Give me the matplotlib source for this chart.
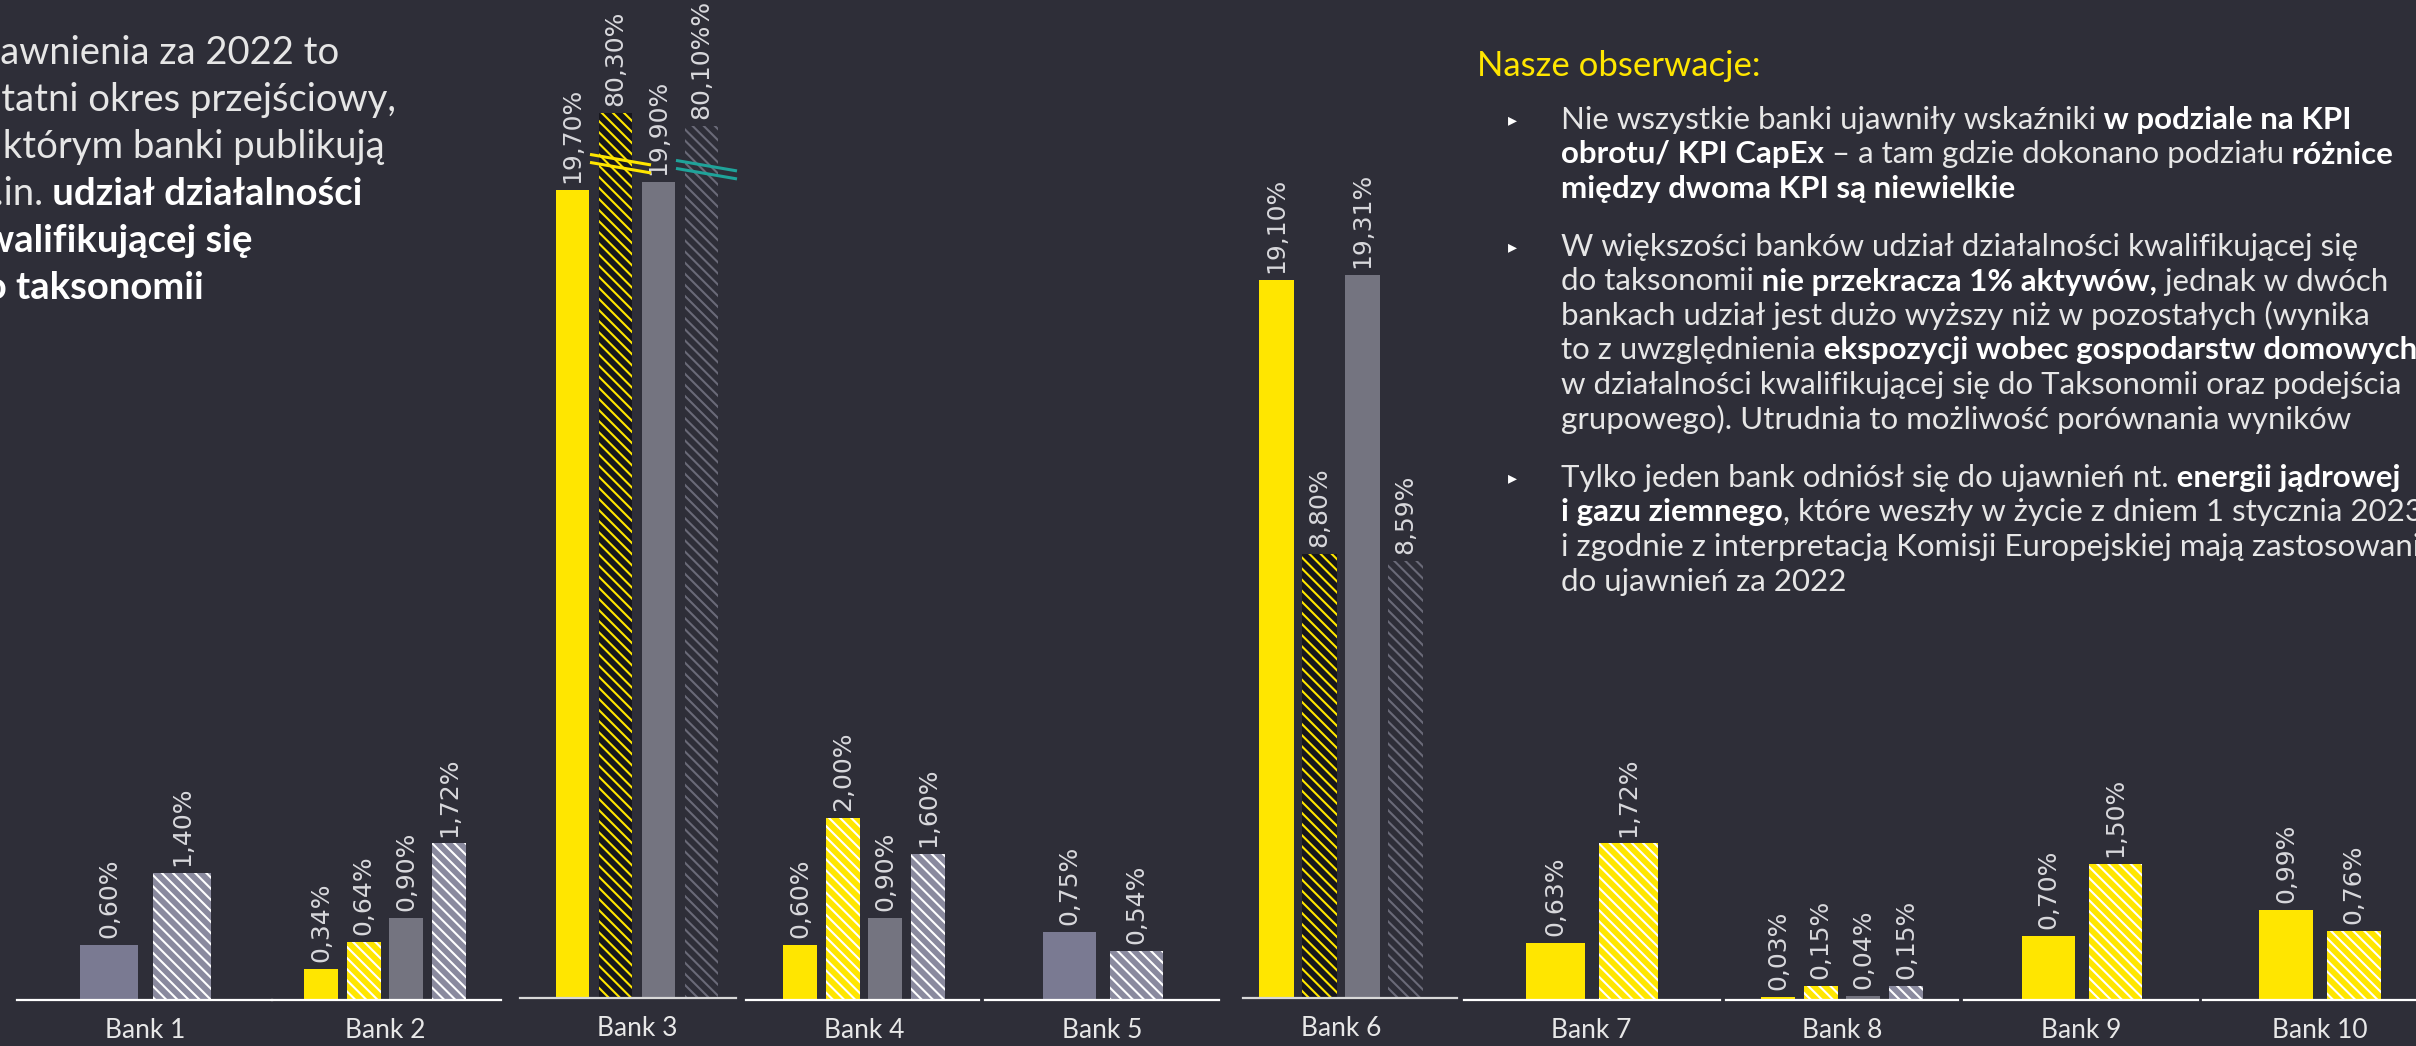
import numpy as np
import matplotlib
matplotlib.use('Agg')
import matplotlib.pyplot as plt
from matplotlib.transforms import blended_transform_factory

# Dane
banks = ['Bank 1', 'Bank 2', 'Bank 3', 'Bank 4', 'Bank 5',
         'Bank 6', 'Bank 7', 'Bank 8', 'Bank 9', 'Bank 10']
# cztery serie: żółta, żółta kreskowana, szara, szara kreskowana (None = brak)
yellow = [None, 0.34, 19.70, 0.60, None, 19.10, 0.63, 0.03, 0.70, 0.99]
yellow_capex = [None, 0.64, 80.30, 2.00, None, 8.80, 1.72, 0.15, 1.50, 0.76]
grey = [0.60, 0.90, 19.90, 0.90, 0.75, 19.31, None, 0.04, None, None]
grey_capex = [1.40, 1.72, 80.10, 1.60, 0.54, 8.59, None, 0.15, None, None]
series = [yellow, yellow_capex, grey, grey_capex]
label_fix = {(2, 3): '80,10%%'}  # tak jak w oryginale

W, H = 2416, 1046
BG = '#2e2e38'
YEL = '#ffe600'

plt.rcParams['hatch.linewidth'] = 1.5
fig = plt.figure(figsize=(W / 100, H / 100), dpi=100, facecolor=BG)

# warstwa na tekst w pikselach
tax = fig.add_axes([0, 0, 1, 1])
tax.set_xlim(0, W)
tax.set_ylim(H, 0)
tax.axis('off')

# układ paneli (piksele): lewa, prawa krawędź, środek grupy, szerokość i odstęp słupków
panel_l = [17, 272, 520, 746, 985, 1243, 1464, 1726, 1964, 2203]
panel_r = [272, 501, 736, 979, 1219, 1457, 1720, 1958, 2198, 2440]
centers = [145.5, 385, 637, 864, 1102.5, 1341, 1591.5, 1842, 2081.5, 2320]
bar_w = [58, 34, 33.5, 34, 53, 34.5, 59, 34, 53, 54]
pitch = [73, 42.5, 43, 42.7, 67, 43, 73, 42.7, 67, 67.5]


def brk_fwd(v):
    v = np.asarray(v, float)
    return np.where(v <= 20, v, np.where(v <= 80, 20 + (v - 20) * 1.1 / 60,
                                         21.1 + (v - 80) * 1.6))


def brk_inv(f):
    f = np.asarray(f, float)
    return np.where(f <= 20, f, np.where(f <= 21.1, 20 + (f - 20) * 60 / 1.1,
                                         80 + (f - 21.1) / 1.6))


P6 = 0.62


def pow_fwd(v):
    v = np.asarray(v, float)
    return np.sign(v) * np.abs(v) ** P6


def pow_inv(f):
    f = np.asarray(f, float)
    return np.sign(f) * np.abs(f) ** (1 / P6)


def draw_break(ax, xc, yfrac, color):
    tr = blended_transform_factory(ax.transData, ax.transAxes)
    for d in (0, -8 / 998):
        ax.plot([xc - 24, xc + 34], [yfrac + 5 / 998 + d, yfrac - 5 / 998 + d],
                transform=tr, color=color, lw=2.2, clip_on=False, zorder=5)


for i, bank in enumerate(banks):
    big = i in (2, 5)
    base = 998 if big else 1000
    L, R, c = panel_l[i], panel_r[i], centers[i]
    ax = fig.add_axes([L / W, (H - base) / H, (R - L) / W, base / H])
    ax.set_facecolor('none')
    ax.set_xlim(L - c, R - c)
    if i == 2:
        ax.set_yscale('function', functions=(brk_fwd, brk_inv))
        ax.set_ylim(0, float(brk_inv(base / 41)))
    elif i == 5:
        ax.set_yscale('function', functions=(pow_fwd, pow_inv))
        ax.set_ylim(0, float(pow_inv(base / 115.3)))
    else:
        ax.set_ylim(0, base / 91)

    gcol = '#7a7a92' if i in (0, 4) else '#747480'
    if big:
        styles = [(YEL, YEL, None), ('#16161c', YEL, '\\\\\\'),
                  (gcol, gcol, None), (BG, '#6a6a78', '\\\\\\')]
    else:
        styles = [(YEL, YEL, None), (YEL, 'white', '\\\\\\'),
                  (gcol, gcol, None), ('#8a8a9e', 'white', '\\\\\\')]

    present = [k for k in range(4) if series[k][i] is not None]
    n = len(present)
    xs = {}
    for j, k in enumerate(present):
        v = series[k][i]
        x = (j - (n - 1) / 2) * pitch[i]
        xs[k] = x
        face, edge, hatch = styles[k]
        ax.bar(x, v, width=bar_w[i], color=face, edgecolor=edge, hatch=hatch,
               linewidth=0)
        txt = label_fix.get((i, k), f'{v:.2f}'.replace('.', ',') + '%')
        ax.annotate(txt, (x, v), xytext=(0, 5), textcoords='offset points',
                    rotation=90, ha='center', va='bottom',
                    fontsize=18, color='#d8d8dc', family='DejaVu Sans')

    if i == 2:
        draw_break(ax, xs[1], 0.840, YEL)
        draw_break(ax, xs[3], 0.834, '#1fa39a')

    for s in ['top', 'left', 'right']:
        ax.spines[s].set_visible(False)
    ax.spines['bottom'].set_color('#d8d8d8' if big else 'white')
    ax.spines['bottom'].set_linewidth(1.6)
    ax.set_yticks([])
    ax.set_xticks([0])
    ax.set_xticklabels([bank], fontsize=19, color='#e8e8e8', family='Lato')
    ax.tick_params(axis='x', length=0, pad=13)

# teksty
r = fig.canvas.get_renderer()


def rich(x, y, parts, size, ncol='#e6e6e6', bcol='white'):
    for s, b in parts:
        t = tax.text(x, y, s, fontsize=size, family='Lato',
                     fontweight='bold' if b else 'normal',
                     color=bcol if b else ncol, va='baseline', ha='left')
        x += t.get_window_extent(r).width


# lewy blok (ucięty przy krawędzi)
left_lines = [
    [('Ujawnienia za 2022 to', False)],
    [('ostatni okres przejściowy,', False)],
    [('w którym banki publikują', False)],
    [('m.in.', False), (' udział działalności', True)],
    [('kwalifikującej się', True)],
    [('do taksonomii', True)],
]
tmp = tax.text(0, 0, 'Uj', fontsize=27.5, family='Lato')
x0 = -tmp.get_window_extent(r).width
tmp.remove()
for j, parts in enumerate(left_lines):
    rich(x0, 64 + j * 47, parts, 27.5)

# prawy blok
tax.text(1477, 76, 'Nasze obserwacje:', fontsize=25, family='Lato',
         color=YEL, va='baseline', ha='left')

bullets = [
    [[('Nie wszystkie banki ujawniły wskaźniki', False), (' w podziale na KPI', True)],
     [('obrotu/ KPI CapEx', True), (' – a tam gdzie dokonano podziału', False), (' różnice', True)],
     [('między dwoma KPI są niewielkie', True)]],
    [[('W większości banków udział działalności kwalifikującej się', False)],
     [('do taksonomii', False), (' nie przekracza 1% aktywów,', True), (' jednak w dwóch', False)],
     [('bankach udział jest dużo wyższy niż w pozostałych (wynika', False)],
     [('to z uwzględnienia', False), (' ekspozycji wobec gospodarstw domowych', True)],
     [('w działalności kwalifikującej się do Taksonomii oraz podejścia', False)],
     [('grupowego). Utrudnia to możliwość porównania wyników', False)]],
    [[('Tylko jeden bank odniósł się do ujawnień nt.', False), (' energii jądrowej', True)],
     [('i gazu ziemnego', True), (', które weszły w życie z dniem 1 stycznia 2023', False)],
     [('i zgodnie z interpretacją Komisji Europejskiej mają zastosowanie', False)],
     [('do ujawnień za 2022', False)]],
]
starts = [120, 247, 478]
for b, lines in enumerate(bullets):
    y = starts[b]
    tax.text(1512, y, '▸', fontsize=13, family='DejaVu Sans', color='white',
             va='center', ha='center')
    for parts in lines:
        rich(1561, y + 9, parts, 22.5)
        y += 34.5

fig.savefig('out.png', dpi=100, facecolor=BG)
